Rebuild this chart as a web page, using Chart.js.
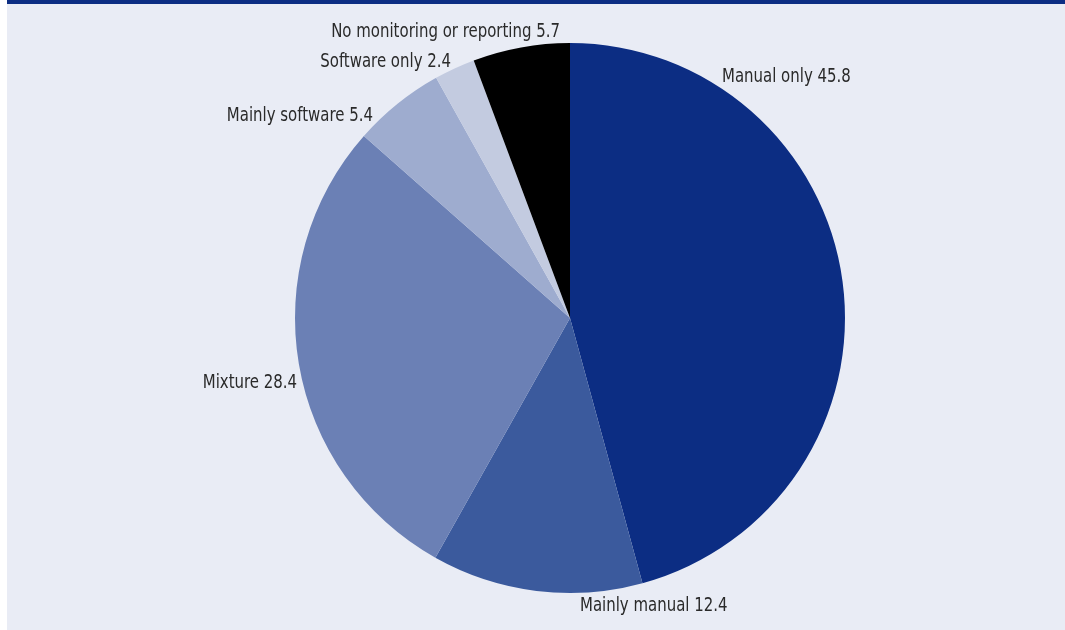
<!DOCTYPE html>
<html>
<head>
<meta charset="utf-8">
<script src="https://cdn.jsdelivr.net/npm/chart.js@4/dist/chart.umd.min.js"></script>
<style>
  html, body { margin: 0; padding: 0; background: #ffffff; }
  #panel {
    position: absolute; left: 7px; top: 0; width: 1058px; height: 630px;
    background: #e9ecf5; border-top: 4px solid #0c2d83; box-sizing: border-box;
  }
  #wrap { position: absolute; left: 0; top: 0; width: 1065px; height: 630px; }
</style>
</head>
<body>
<div id="panel"></div>
<div id="wrap"><canvas id="pie"></canvas></div>
<script>
// Monitoring and reporting method, share in %
const categories = ["Manual only", "Mainly manual", "Mixture", "Mainly software", "Software only", "No monitoring or reporting"];
const shares = [45.8, 12.4, 28.4, 5.4, 2.4, 5.7];
const colors = ["#0c2d83", "#3b5a9d", "#6b80b5", "#9eaccf", "#c3cbe0", "#000000"];

// where each label sits, relative to the pie centre
const labelLayout = [
  { dx: 152, dy: -241, align: "left" },
  { dx: 10, dy: 288, align: "left" },
  { dx: -273, dy: 65, align: "right" },
  { dx: -197, dy: -202, align: "right" },
  { dx: -119, dy: -256, align: "right" },
  { dx: -10, dy: -286, align: "right" },
];

// condensed labels: the font is squeezed horizontally
const squeeze = 0.875;

const sliceLabels = {
  id: "sliceLabels",
  afterDatasetsDraw(chart) {
    const ctx = chart.ctx;
    const arc = chart.getDatasetMeta(0).data[0];
    const cx = arc.x, cy = arc.y;
    ctx.save();
    ctx.fillStyle = "#2a2a2a";
    ctx.font = '19px "DejaVu Sans Condensed", "Liberation Sans", sans-serif';
    ctx.textBaseline = "middle";
    chart.data.labels.forEach((name, i) => {
      const pos = labelLayout[i];
      ctx.save();
      ctx.translate(cx + pos.dx, cy + pos.dy);
      ctx.scale(squeeze, 1);
      ctx.textAlign = pos.align;
      ctx.fillText(name + " " + chart.data.datasets[0].data[i], 0, 0);
      ctx.restore();
    });
    ctx.restore();
  }
};

new Chart(document.getElementById("pie").getContext("2d"), {
  type: "pie",
  data: {
    labels: categories,
    datasets: [{
      data: shares,
      backgroundColor: colors,
      borderWidth: 0,
    }],
  },
  options: {
    responsive: true,
    maintainAspectRatio: false,
    animation: false,
    layout: { padding: { left: 295, right: 220, top: 43, bottom: 37 } },
    plugins: {
      legend: { display: false },
      tooltip: { enabled: false },
    },
  },
  plugins: [sliceLabels],
});
</script>
</body>
</html>
